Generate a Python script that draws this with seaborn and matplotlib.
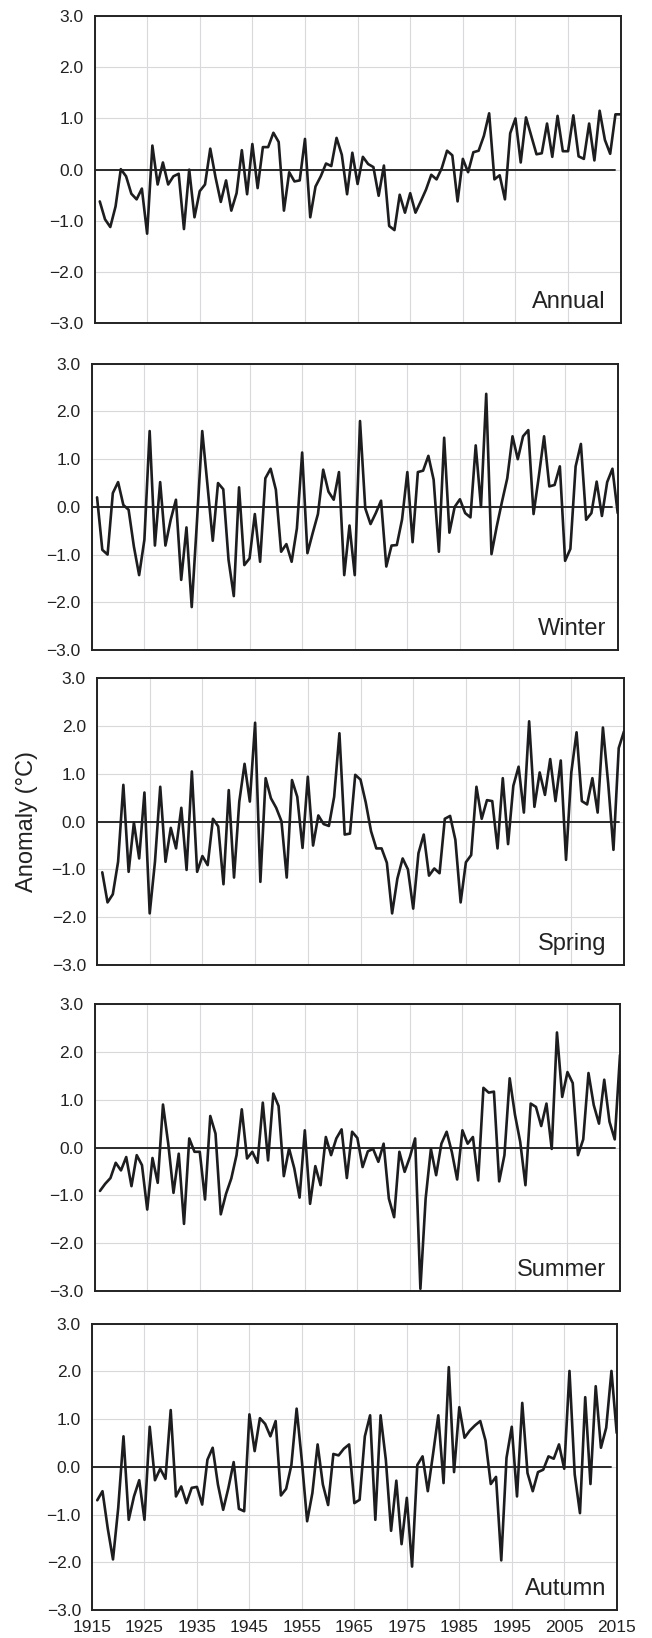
import matplotlib
matplotlib.use("Agg")
import matplotlib.pyplot as plt
import numpy as np
import pandas as pd
import seaborn as sns
from matplotlib.ticker import FuncFormatter

# ---------------- data ----------------
years = list(range(1916, 2016))
seasons = ["Annual", "Winter", "Spring", "Summer", "Autumn"]

annual = [
    -0.62, -0.97, -1.12, -0.72, 0.01, -0.13, -0.47, -0.58, -0.37, -1.25,
    0.47, -0.29, 0.14, -0.29, -0.13, -0.08, -1.16, 0.00, -0.93, -0.42,
    -0.29, 0.41, -0.15, -0.63, -0.21, -0.80, -0.46, 0.38, -0.48, 0.50,
    -0.36, 0.44, 0.44, 0.72, 0.54, -0.80, -0.05, -0.23, -0.21, 0.60,
    -0.93, -0.33, -0.13, 0.12, 0.07, 0.62, 0.29, -0.48, 0.33, -0.28,
    0.25, 0.11, 0.05, -0.51, 0.08, -1.10, -1.18, -0.49, -0.84, -0.46,
    -0.84, -0.62, -0.39, -0.10, -0.19, 0.03, 0.37, 0.28, -0.62, 0.21,
    -0.05, 0.34, 0.37, 0.66, 1.10, -0.19, -0.11, -0.58, 0.71, 1.00,
    0.14, 1.02, 0.66, 0.30, 0.32, 0.90, 0.25, 1.05, 0.36, 0.36,
    1.06, 0.26, 0.21, 0.90, 0.18, 1.15, 0.58, 0.31, 1.08, 1.08,
]

winter = [
    0.20, -0.90, -1.00, 0.29, 0.52, 0.04, -0.06, -0.83, -1.43, -0.69,
    1.59, -0.81, 0.52, -0.81, -0.27, 0.15, -1.53, -0.43, -2.10, -0.30,
    1.59, 0.45, -0.71, 0.50, 0.37, -1.11, -1.87, 0.41, -1.22, -1.08,
    -0.15, -1.15, 0.60, 0.80, 0.36, -0.94, -0.78, -1.15, -0.45, 1.14,
    -0.97, -0.55, -0.15, 0.78, 0.32, 0.15, 0.73, -1.43, -0.39, -1.43,
    1.80, -0.03, -0.36, -0.13, 0.13, -1.25, -0.81, -0.80, -0.26, 0.73,
    -0.74, 0.73, 0.76, 1.07, 0.57, -0.94, 1.45, -0.54, 0.00, 0.16,
    -0.13, -0.22, 1.29, 0.00, 2.37, -0.99, -0.41, 0.11, 0.60, 1.48,
    1.00, 1.48, 1.61, -0.15, 0.64, 1.48, 0.43, 0.46, 0.85, -1.13,
    -0.88, 0.85, 1.32, -0.27, -0.13, 0.53, -0.19, 0.52, 0.80, -0.13,
]

spring = [
    -1.06, -1.69, -1.52, -0.84, 0.77, -1.05, -0.02, -0.77, 0.61, -1.92,
    -0.84, 0.73, -0.84, -0.13, -0.56, 0.29, -1.01, 1.05, -1.05, -0.72,
    -0.91, 0.06, -0.10, -1.31, 0.66, -1.17, 0.42, 1.21, 0.42, 2.07,
    -1.26, 0.91, 0.49, 0.29, 0.01, -1.17, 0.87, 0.52, -0.55, 0.94,
    -0.50, 0.13, -0.05, -0.09, 0.52, 1.85, -0.27, -0.25, 0.98, 0.88,
    0.40, -0.20, -0.56, -0.56, -0.86, -1.92, -1.19, -0.77, -1.00, -1.82,
    -0.66, -0.27, -1.13, -0.98, -1.08, 0.06, 0.12, -0.38, -1.69, -0.85,
    -0.70, 0.73, 0.06, 0.45, 0.43, -0.56, 0.91, -0.47, 0.75, 1.15,
    0.19, 2.10, 0.31, 1.03, 0.56, 1.31, 0.43, 1.28, -0.80, 1.03,
    1.87, 0.43, 0.36, 0.91, 0.19, 1.97, 0.80, -0.59, 1.54, 1.89,
]

summer = [
    -0.91, -0.76, -0.64, -0.32, -0.48, -0.20, -0.81, -0.16, -0.37, -1.30,
    -0.22, -0.74, 0.90, 0.08, -0.95, -0.13, -1.60, 0.19, -0.09, -0.09,
    -1.09, 0.66, 0.29, -1.40, -0.97, -0.65, -0.16, 0.80, -0.23, -0.09,
    -0.32, 0.94, -0.27, 1.13, 0.87, -0.60, -0.02, -0.44, -1.05, 0.36,
    -1.18, -0.39, -0.79, 0.22, -0.16, 0.19, 0.38, -0.64, 0.33, 0.20,
    -0.41, -0.08, -0.03, -0.30, 0.08, -1.07, -1.46, -0.09, -0.51, -0.20,
    0.19, -2.96, -1.07, -0.03, -0.58, 0.08, 0.33, -0.10, -0.67, 0.36,
    0.08, 0.22, -0.69, 1.25, 1.15, 1.17, -0.71, -0.16, 1.45, 0.69,
    0.12, -0.79, 0.92, 0.85, 0.45, 0.92, -0.03, 2.41, 1.06, 1.58,
    1.35, -0.16, 0.17, 1.56, 0.89, 0.50, 1.42, 0.54, 0.17, 1.94,
]

autumn = [
    -0.70, -0.51, -1.29, -1.94, -0.86, 0.64, -1.11, -0.62, -0.28, -1.11,
    0.84, -0.28, -0.04, -0.25, 1.19, -0.62, -0.41, -0.76, -0.44, -0.42,
    -0.79, 0.15, 0.40, -0.37, -0.90, -0.44, 0.10, -0.88, -0.93, 1.10,
    0.33, 1.02, 0.90, 0.64, 0.96, -0.60, -0.46, 0.04, 1.22, 0.12,
    -1.14, -0.55, 0.47, -0.37, -0.80, 0.27, 0.24, 0.38, 0.47, -0.76,
    -0.69, 0.64, 1.08, -1.11, 1.08, 0.15, -1.34, -0.29, -1.62, -0.65,
    -2.09, 0.04, 0.22, -0.51, 0.27, 1.08, -0.34, 2.09, -0.11, 1.25,
    0.61, 0.76, 0.87, 0.96, 0.55, -0.36, -0.21, -1.96, 0.19, 0.84,
    -0.62, 1.34, -0.13, -0.51, -0.11, -0.06, 0.22, 0.17, 0.47, -0.04,
    2.01, -0.16, -0.97, 1.46, -0.36, 1.69, 0.40, 0.82, 2.01, 0.71,
]

x_ticks = [1915, 1925, 1935, 1945, 1955, 1965, 1975, 1985, 1995, 2005, 2015]
y_ticks = [-3.0, -2.0, -1.0, 0.0, 1.0, 2.0, 3.0]
y_label = "Anomaly (°C)"

# ---------------- style ----------------
sns.set_theme(style="whitegrid")
plt.rcParams["font.family"] = ["Liberation Sans", "DejaVu Sans"]

W, H = 652, 1638
fig = plt.figure(figsize=(W / 100, H / 100), dpi=100)
fig.patch.set_facecolor("white")

# panel boxes in pixels: left, right, top, bottom
boxes = [
    (94.5, 620.7, 16.0, 323.3),
    (91.8, 617.7, 363.8, 650.0),
    (97.0, 624.0, 678.3, 965.0),
    (94.7, 620.0, 1004.3, 1290.7),
    (92.0, 616.7, 1323.7, 1610.0),
]

series = [annual, winter, spring, summer, autumn]
ink = "#1d1d1f"
fmt = FuncFormatter(lambda v, p: f"{v:.1f}".replace("-", "\u2212"))

for i, (name, vals) in enumerate(zip(seasons, series)):
    l, r, t, b = boxes[i]
    ax = fig.add_axes([l / W, 1 - b / H, (r - l) / W, (b - t) / H])
    df = pd.DataFrame({"Year": years, "Anomaly": vals})
    ax.axhline(0, xmin=0, xmax=0.99, color="#2a2a2a", lw=1.4, zorder=1.5)
    sns.lineplot(data=df, x="Year", y="Anomaly", ax=ax, color=ink,
                 linewidth=1.9, zorder=3)
    ax.set_xlim(1915, 2015)
    ax.set_ylim(-3, 3)
    ax.set_xticks(x_ticks)
    ax.set_yticks(y_ticks)
    ax.yaxis.set_major_formatter(fmt)
    ax.grid(True, color="#d9d9db", lw=0.8)
    ax.set_axisbelow(True)
    for s in ax.spines.values():
        s.set_color("#222222")
        s.set_linewidth(1.4)
    ax.tick_params(axis="both", length=0, labelsize=12.5, colors="#222222")
    ax.tick_params(axis="y", pad=8)
    ax.tick_params(axis="x", pad=7.5)
    ax.set_xlabel("")
    ax.set_ylabel("")
    if i < len(seasons) - 1:
        ax.tick_params(axis="x", labelbottom=False)
    fig.text(606 / W, 1 - (b - 15) / H, name, ha="right", va="baseline",
             fontsize=17, color="#222222")

fig.text(27.5 / W, 1 - 821 / H, y_label, rotation=90, ha="center",
         va="center", fontsize=17, color="#222222")

fig.savefig("out.png", dpi=100, facecolor="white")
